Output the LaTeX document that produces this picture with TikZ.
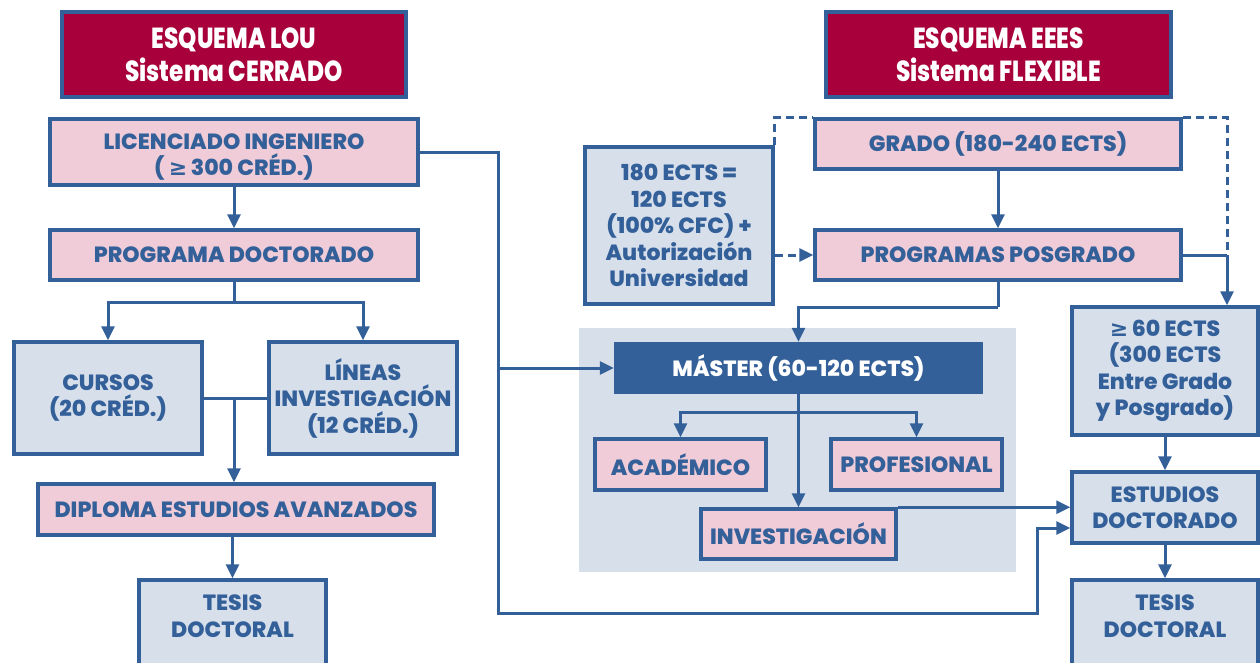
\documentclass[tikz,border=0pt]{standalone}
\usepackage{fontspec}
\setmainfont{Poppins}[BoldFont={Poppins ExtraBold}]
\newfontfamily\titlef{Poppins}[FakeStretch=0.8,BoldFont={Poppins ExtraBold}]
\newfontfamily\symf{DejaVu Sans}
\usetikzlibrary{arrows.meta,calc}
\definecolor{cblue}{HTML}{34609A}
\definecolor{cpink}{HTML}{EFCCD7}
\definecolor{clight}{HTML}{D7DFEB}
\definecolor{ccrim}{HTML}{A8003A}
\newcommand{\gesym}{{\symf\bfseries ≥}}
\begin{document}
\begin{tikzpicture}[x=1pt,y=-1pt,
  box/.style={draw=cblue,line width=3.5pt,inner sep=0pt,align=center,text=cblue,
    font=\fontsize{22}{26.5}\selectfont\bfseries},
  pinkbox/.style={box,fill=cpink},
  bluebox/.style={box,fill=clight},
  titlebox/.style={draw=cblue,fill=ccrim,line width=4.5pt,inner sep=0pt,align=center,text=white,
    font=\titlef\fontsize{29}{33}\selectfont\bfseries},
  conn/.style={draw=cblue,line width=3pt},
  arr/.style={conn,-{Triangle[length=14pt,width=13pt]}},
  dashline/.style={conn,dash pattern=on 8pt off 5pt},
  dasharr/.style={dashline,-{Triangle[length=14pt,width=13pt]}}
]
\clip (0,0) rectangle (1260,662);
\fill[white] (0,0) rectangle (1260,662);
% panel
\node[fill=clight,minimum width=437pt,minimum height=244pt,inner sep=0pt] (panel) at (797.5,450) {};
% left column
\node[titlebox,minimum width=344pt,minimum height=85pt] (t1) at (234,54.5) {ESQUEMA LOU\\Sistema CERRADO};
\node[pinkbox,minimum width=368pt,minimum height=66pt,text height=52pt] (lic) at (234,152) {LICENCIADO INGENIERO\\( \gesym\,300 CRÉD.)};
\node[pinkbox,minimum width=368pt,minimum height=50pt] (pd) at (234,255) {PROGRAMA DOCTORADO};
\node[bluebox,minimum width=188pt,minimum height=112pt] (cur) at (108,398) {CURSOS\\(20 CRÉD.)};
\node[bluebox,minimum width=188pt,minimum height=112pt] (lin) at (363,398) {LÍNEAS\\INVESTIGACIÓN\\(12 CRÉD.)};
\node[pinkbox,minimum width=396pt,minimum height=51pt] (dip) at (236,509.5) {DIPLOMA ESTUDIOS AVANZADOS};
\node[bluebox,minimum width=187pt,minimum height=92pt,text depth=20pt] (tes1) at (232.5,626) {TESIS\\DOCTORAL};
% right column
\node[titlebox,minimum width=345pt,minimum height=85pt] (t2) at (998.5,54.5) {ESQUEMA EEES\\Sistema FLEXIBLE};
\node[pinkbox,minimum width=366pt,minimum height=50pt] (grado) at (998,144) {GRADO (180-240 ECTS)};
\node[pinkbox,minimum width=366pt,minimum height=50pt] (pp) at (998,255) {PROGRAMAS POSGRADO};
\node[bluebox,minimum width=188pt,minimum height=157pt] (e180) at (679,225.5) {180 ECTS =\\120 ECTS\\(100\% CFC) +\\Autorización\\Universidad};
\node[bluebox,minimum width=186pt,minimum height=128pt] (e60) at (1165,371) {\gesym\,60 ECTS\\(300 ECTS\\Entre Grado\\y Posgrado)};
\node[bluebox,minimum width=186pt,minimum height=71pt] (ed) at (1165,507.5) {ESTUDIOS\\DOCTORADO};
\node[bluebox,minimum width=186pt,minimum height=92pt,text depth=20pt] (tes2) at (1165,626) {TESIS\\DOCTORAL};
% master group
\node[fill=cblue,inner sep=0pt,minimum width=369pt,minimum height=52pt,text=white,
  font=\fontsize{22}{26.5}\selectfont\bfseries] (master) at (798.5,368) {MÁSTER (60-120 ECTS)};
\node[pinkbox,minimum width=171pt,minimum height=51pt] (acad) at (680.5,464.5) {ACADÉMICO};
\node[pinkbox,minimum width=171pt,minimum height=51pt] (prof) at (916.5,464.5) {PROFESIONAL};
\node[pinkbox,minimum width=195pt,minimum height=50pt] (inv) at (798.5,534) {INVESTIGACIÓN};
% coordinates
\coordinate (pb) at (234,302);
\coordinate (cl) at (234,398);
\coordinate (l1) at (498,152);
\coordinate (l2) at (1037,613);
\coordinate (edin) at ($(ed.west)+(0,20.5)$);
\coordinate (mb) at (798,412);
\coordinate (pb2) at (998,307);
\coordinate (j) at (1227,255);
% left connectors
\draw[arr] (lic.south) -- (pd.north);
\draw[conn] (pd.south) -- (pb);
\draw[arr] (pb) -| (cur.north);
\draw[arr] (pb) -| (lin.north);
\draw[conn] (cur.east) -- (lin.west);
\draw[arr] (cl) -- (cl |- dip.north);
\draw[arr] (tes1.north |- dip.south) -- (tes1.north);
% long connectors
\draw[arr] (lic.east) -- (l1) -- (l1 |- master.west) -- (master.west);
\draw[arr] (l1 |- master.west) -- (l1 |- l2) -- (l2) -- (l2 |- edin) -- (edin);
% master connectors
\draw[arr] (master.south) -- (inv.north);
\draw[arr] (mb) -| (acad.north);
\draw[arr] (mb) -| (prof.north);
\draw[arr] (inv.north east) -- (inv.north east -| ed.west);
% right connectors
\draw[arr] (grado.south) -- (pp.north);
\draw[conn] (pp.south) -- (pb2);
\draw[arr] (pb2) -| (master.north);
\draw[conn] (pp.east) -- (j);
\draw[arr] (j) -- (j |- e60.north);
\draw[arr] (e60.south) -- (ed.north);
\draw[arr] (ed.south) -- (tes2.north);
% dashed
\draw[dasharr] (pp.west -| e180.east) -- (pp.west);
\draw[dashline] (e180.north east) -- (e180.north east |- grado.north) -- (grado.north west);
\draw[dashline] (grado.north east) -- (grado.north east -| j) -- (j);
\end{tikzpicture}
\end{document}
